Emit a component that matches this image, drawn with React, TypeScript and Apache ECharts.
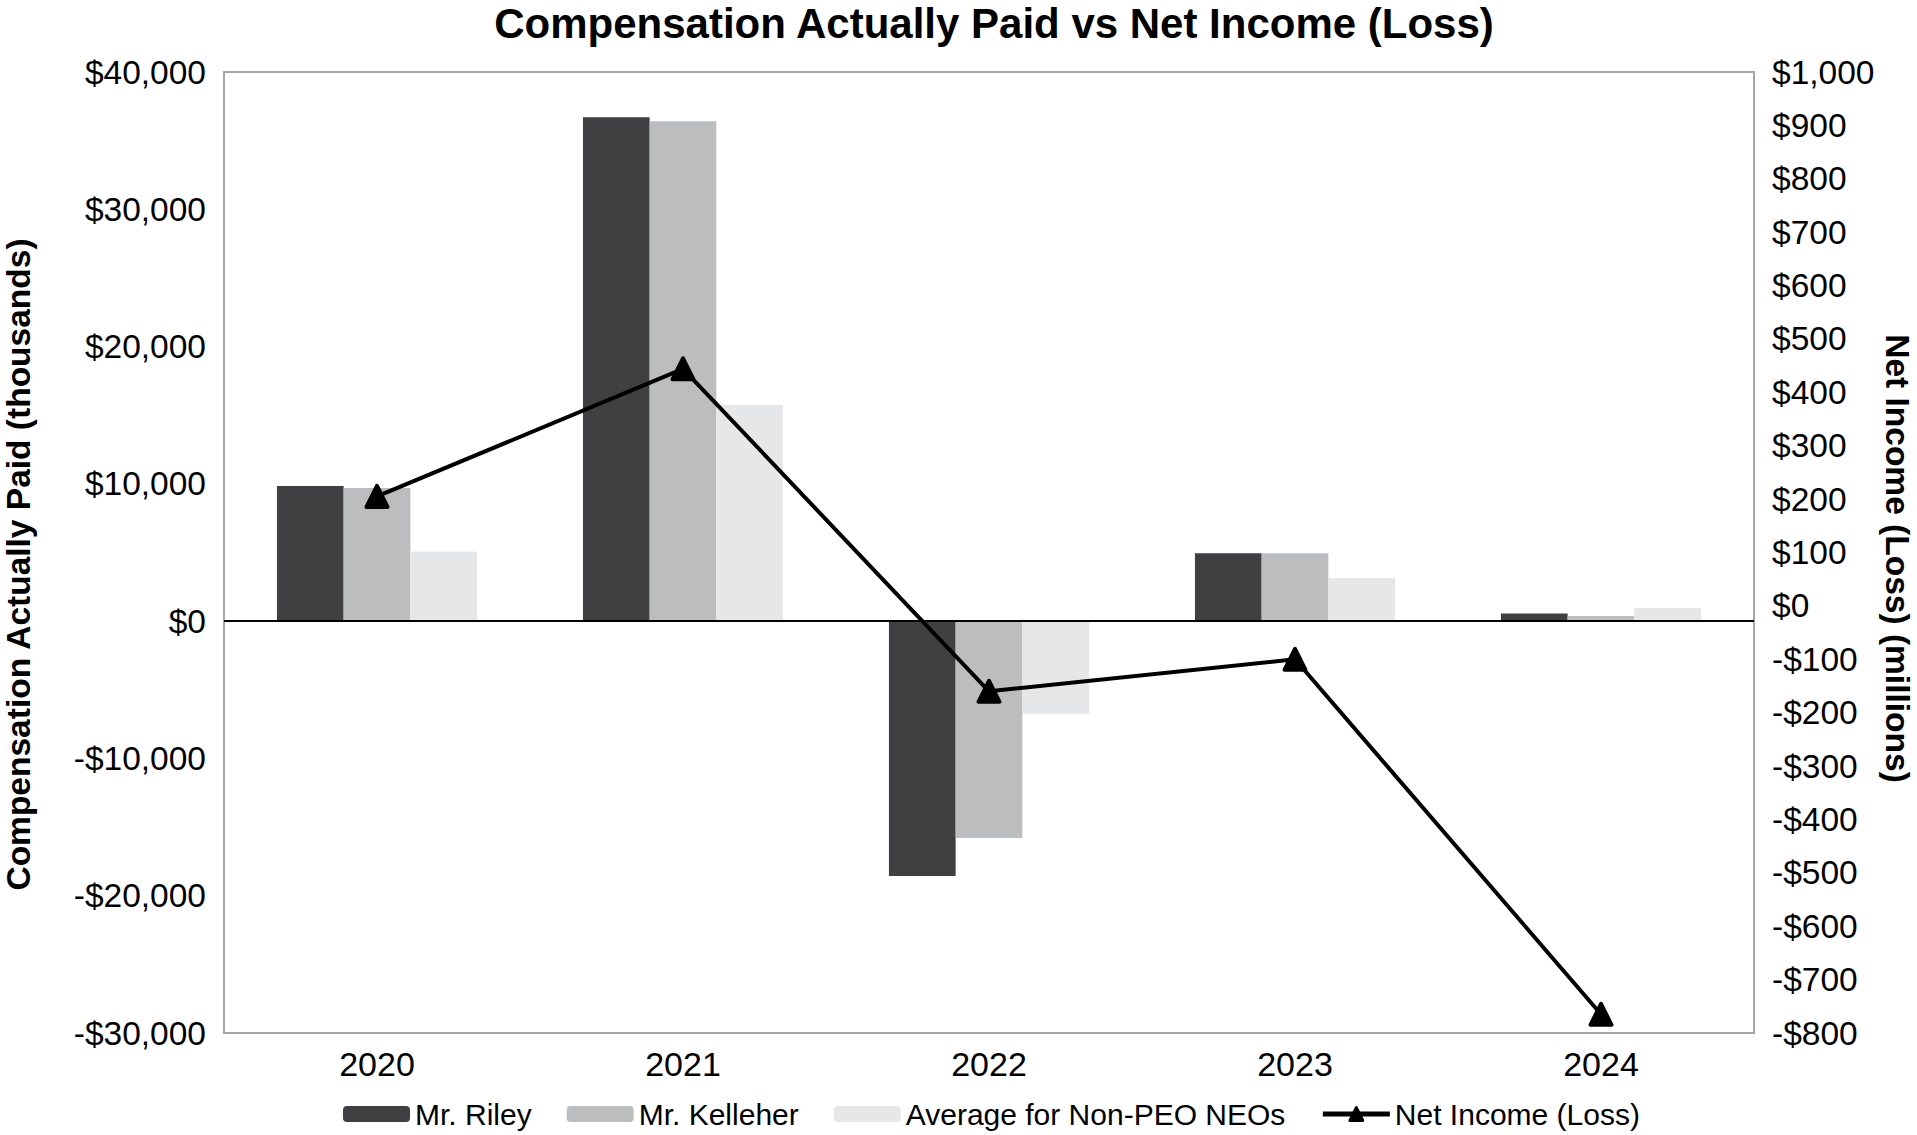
import React, { useEffect, useRef } from "react";
import * as echarts from "echarts";

const years = ["2020", "2021", "2022", "2023", "2024"];
const riley = [9850, 36700, -18570, 4950, 550];
const kelleher = [9700, 36420, -15800, 4950, 380];
const nonPeo = [5070, 15750, -6750, 3150, 950];
const netIncome = [205, 444, -160, -100, -765];

const FONT = "'Liberation Sans', Arial, Helvetica, sans-serif";

const fmtDollar = (v: number) => {
  const s = Math.abs(v).toLocaleString("en-US");
  return (v < 0 ? "-$" : "$") + s;
};

export default function App() {
  const ref = useRef<HTMLDivElement>(null);

  useEffect(() => {
    if (!ref.current) return;
    const chart = echarts.init(ref.current, undefined, { renderer: "svg" });
    chart.setOption({
      animation: false,
      backgroundColor: "#ffffff",
      textStyle: { fontFamily: FONT },
      title: {
        text: "Compensation Actually Paid vs Net Income (Loss)",
        left: 989,
        textAlign: "center",
        top: -3,
        textStyle: { fontFamily: FONT, fontSize: 42, fontWeight: "bold", color: "#000" },
      },
      grid: {
        left: 224,
        right: 163,
        top: 72,
        bottom: 102,
        outerBoundsMode: "none",
        containLabel: false,
        show: true,
        borderColor: "#a6a6a6",
        borderWidth: 2,
        backgroundColor: "transparent",
      },
      legend: {
        left: 343,
        top: 1099,
        padding: 0,
        itemWidth: 67,
        itemHeight: 16,
        itemGap: 35,
        textStyle: { fontFamily: FONT, fontSize: 30, color: "#000" },
        data: [
          "Mr. Riley",
          "Mr. Kelleher",
          "Average for Non-PEO NEOs",
          {
            name: "Net Income (Loss)",
            lineStyle: { width: 5, color: "#000" },
            itemStyle: { color: "#000", borderColor: "#000", borderWidth: 3 },
          },
        ],
      },
      xAxis: {
        type: "category",
        data: years,
        axisLine: { onZero: false, lineStyle: { color: "#a6a6a6", width: 2 } },
        axisTick: { show: false },
        axisLabel: { fontFamily: FONT, fontSize: 34, color: "#000", margin: 14 },
        splitLine: { show: false },
      },
      yAxis: [
        {
          type: "value",
          min: -30000,
          max: 40000,
          interval: 10000,
          position: "left",
          name: "Compensation Actually Paid (thousands)",
          nameLocation: "middle",
          nameGap: 189,
          nameMoveOverlap: false,
          nameTextStyle: {
            fontFamily: FONT,
            fontSize: 33.5,
            fontWeight: "bold",
            color: "#000",
            padding: [0, 24, 0, 0],
          },
          axisLine: { show: false },
          axisTick: { show: false },
          splitLine: { show: false },
          axisLabel: {
            fontFamily: FONT,
            fontSize: 33.5,
            color: "#000",
            margin: 18,
            formatter: fmtDollar,
          },
        },
        {
          type: "value",
          min: -800,
          max: 1000,
          interval: 100,
          position: "right",
          name: "Net Income (Loss) (millions)",
          nameLocation: "middle",
          nameRotate: -90,
          nameGap: 126,
          nameMoveOverlap: false,
          nameTextStyle: {
            fontFamily: FONT,
            fontSize: 33.5,
            fontWeight: "bold",
            color: "#000",
            padding: [0, 0, 0, 12],
          },
          axisLine: { show: false },
          axisTick: { show: false },
          splitLine: { show: false },
          axisLabel: {
            fontFamily: FONT,
            fontSize: 33.5,
            color: "#000",
            margin: 18,
            formatter: fmtDollar,
          },
        },
      ],
      series: [
        {
          name: "Mr. Riley",
          type: "bar",
          data: riley,
          barGap: "0%",
          barCategoryGap: "34.6%",
          itemStyle: { color: "#404042" },
          markLine: {
            silent: true,
            symbol: "none",
            label: { show: false },
            lineStyle: { color: "#000", width: 2, type: "solid" },
            data: [{ yAxis: 0 }],
          },
        },
        {
          name: "Mr. Kelleher",
          type: "bar",
          data: kelleher,
          barGap: "0%",
          barCategoryGap: "34.6%",
          itemStyle: { color: "#bcbdbf" },
        },
        {
          name: "Average for Non-PEO NEOs",
          type: "bar",
          data: nonPeo,
          barGap: "0%",
          barCategoryGap: "34.6%",
          itemStyle: { color: "#e6e7e8" },
        },
        {
          name: "Net Income (Loss)",
          type: "line",
          yAxisIndex: 1,
          data: netIncome,
          symbol: "triangle",
          symbolSize: 21,
          lineStyle: { color: "#000", width: 4 },
          itemStyle: { color: "#000", borderColor: "#000", borderWidth: 4, borderJoin: "round" },
          z: 5,
        },
      ],
    });
    return () => chart.dispose();
  }, []);

  return (
    <div
      ref={ref}
      style={{ position: "fixed", left: 0, top: 0, width: 1917, height: 1135, background: "#fff" }}
    />
  );
}
